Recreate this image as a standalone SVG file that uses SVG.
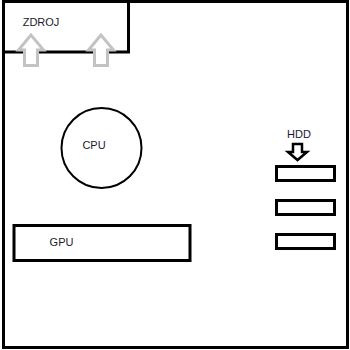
<svg xmlns="http://www.w3.org/2000/svg" width="350" height="350" viewBox="0 0 350 350">
<style>
.box{fill:none;stroke:#000;stroke-width:3}
.lbl{font-family:"Liberation Sans",Arial,sans-serif;font-size:11px;fill:#1a1a2e;text-anchor:middle}
.garrow{fill:#fff;stroke:#c3c3c3;stroke-width:3;stroke-linejoin:miter}
.barrow{fill:#fff;stroke:#000;stroke-width:2.5;stroke-linejoin:miter}
</style>
<rect width="350" height="350" fill="#fff"/>
<g id="case"><rect class="box" x="3.5" y="1.5" width="344" height="346"/></g>
<g id="zdroj">
<rect class="box" x="3.5" y="1.5" width="125" height="50.5"/>
<text class="lbl" x="41" y="26">ZDROJ</text>
</g>
<g id="connectors">
<path class="garrow" d="M31,35 L18.5,50 L24.5,50 L24.5,65.5 L37.5,65.5 L37.5,50 L43.5,50 Z"/>
<path class="garrow" d="M101,35 L88.5,50 L94.5,50 L94.5,65.5 L107.5,65.5 L107.5,50 L113.5,50 Z"/>
<path class="barrow" d="M293,144 L302,144 L302,152 L307,152 L297.5,160 L288,152 L293,152 Z"/>
</g>
<g id="cpu">
<circle cx="101.5" cy="148" r="40" fill="none" stroke="#000" stroke-width="2"/>
<text class="lbl" x="94" y="149">CPU</text>
</g>
<g id="gpu">
<rect class="box" x="14" y="225.5" width="176" height="35"/>
<text class="lbl" x="61.5" y="245.5">GPU</text>
</g>
<g id="hdd">
<text class="lbl" x="299" y="138">HDD</text>
<rect class="box" x="276.5" y="166.5" width="58" height="14"/>
<rect class="box" x="276.5" y="200.5" width="58" height="14"/>
<rect class="box" x="276.5" y="234.5" width="58" height="14"/>
</g>
</svg>
